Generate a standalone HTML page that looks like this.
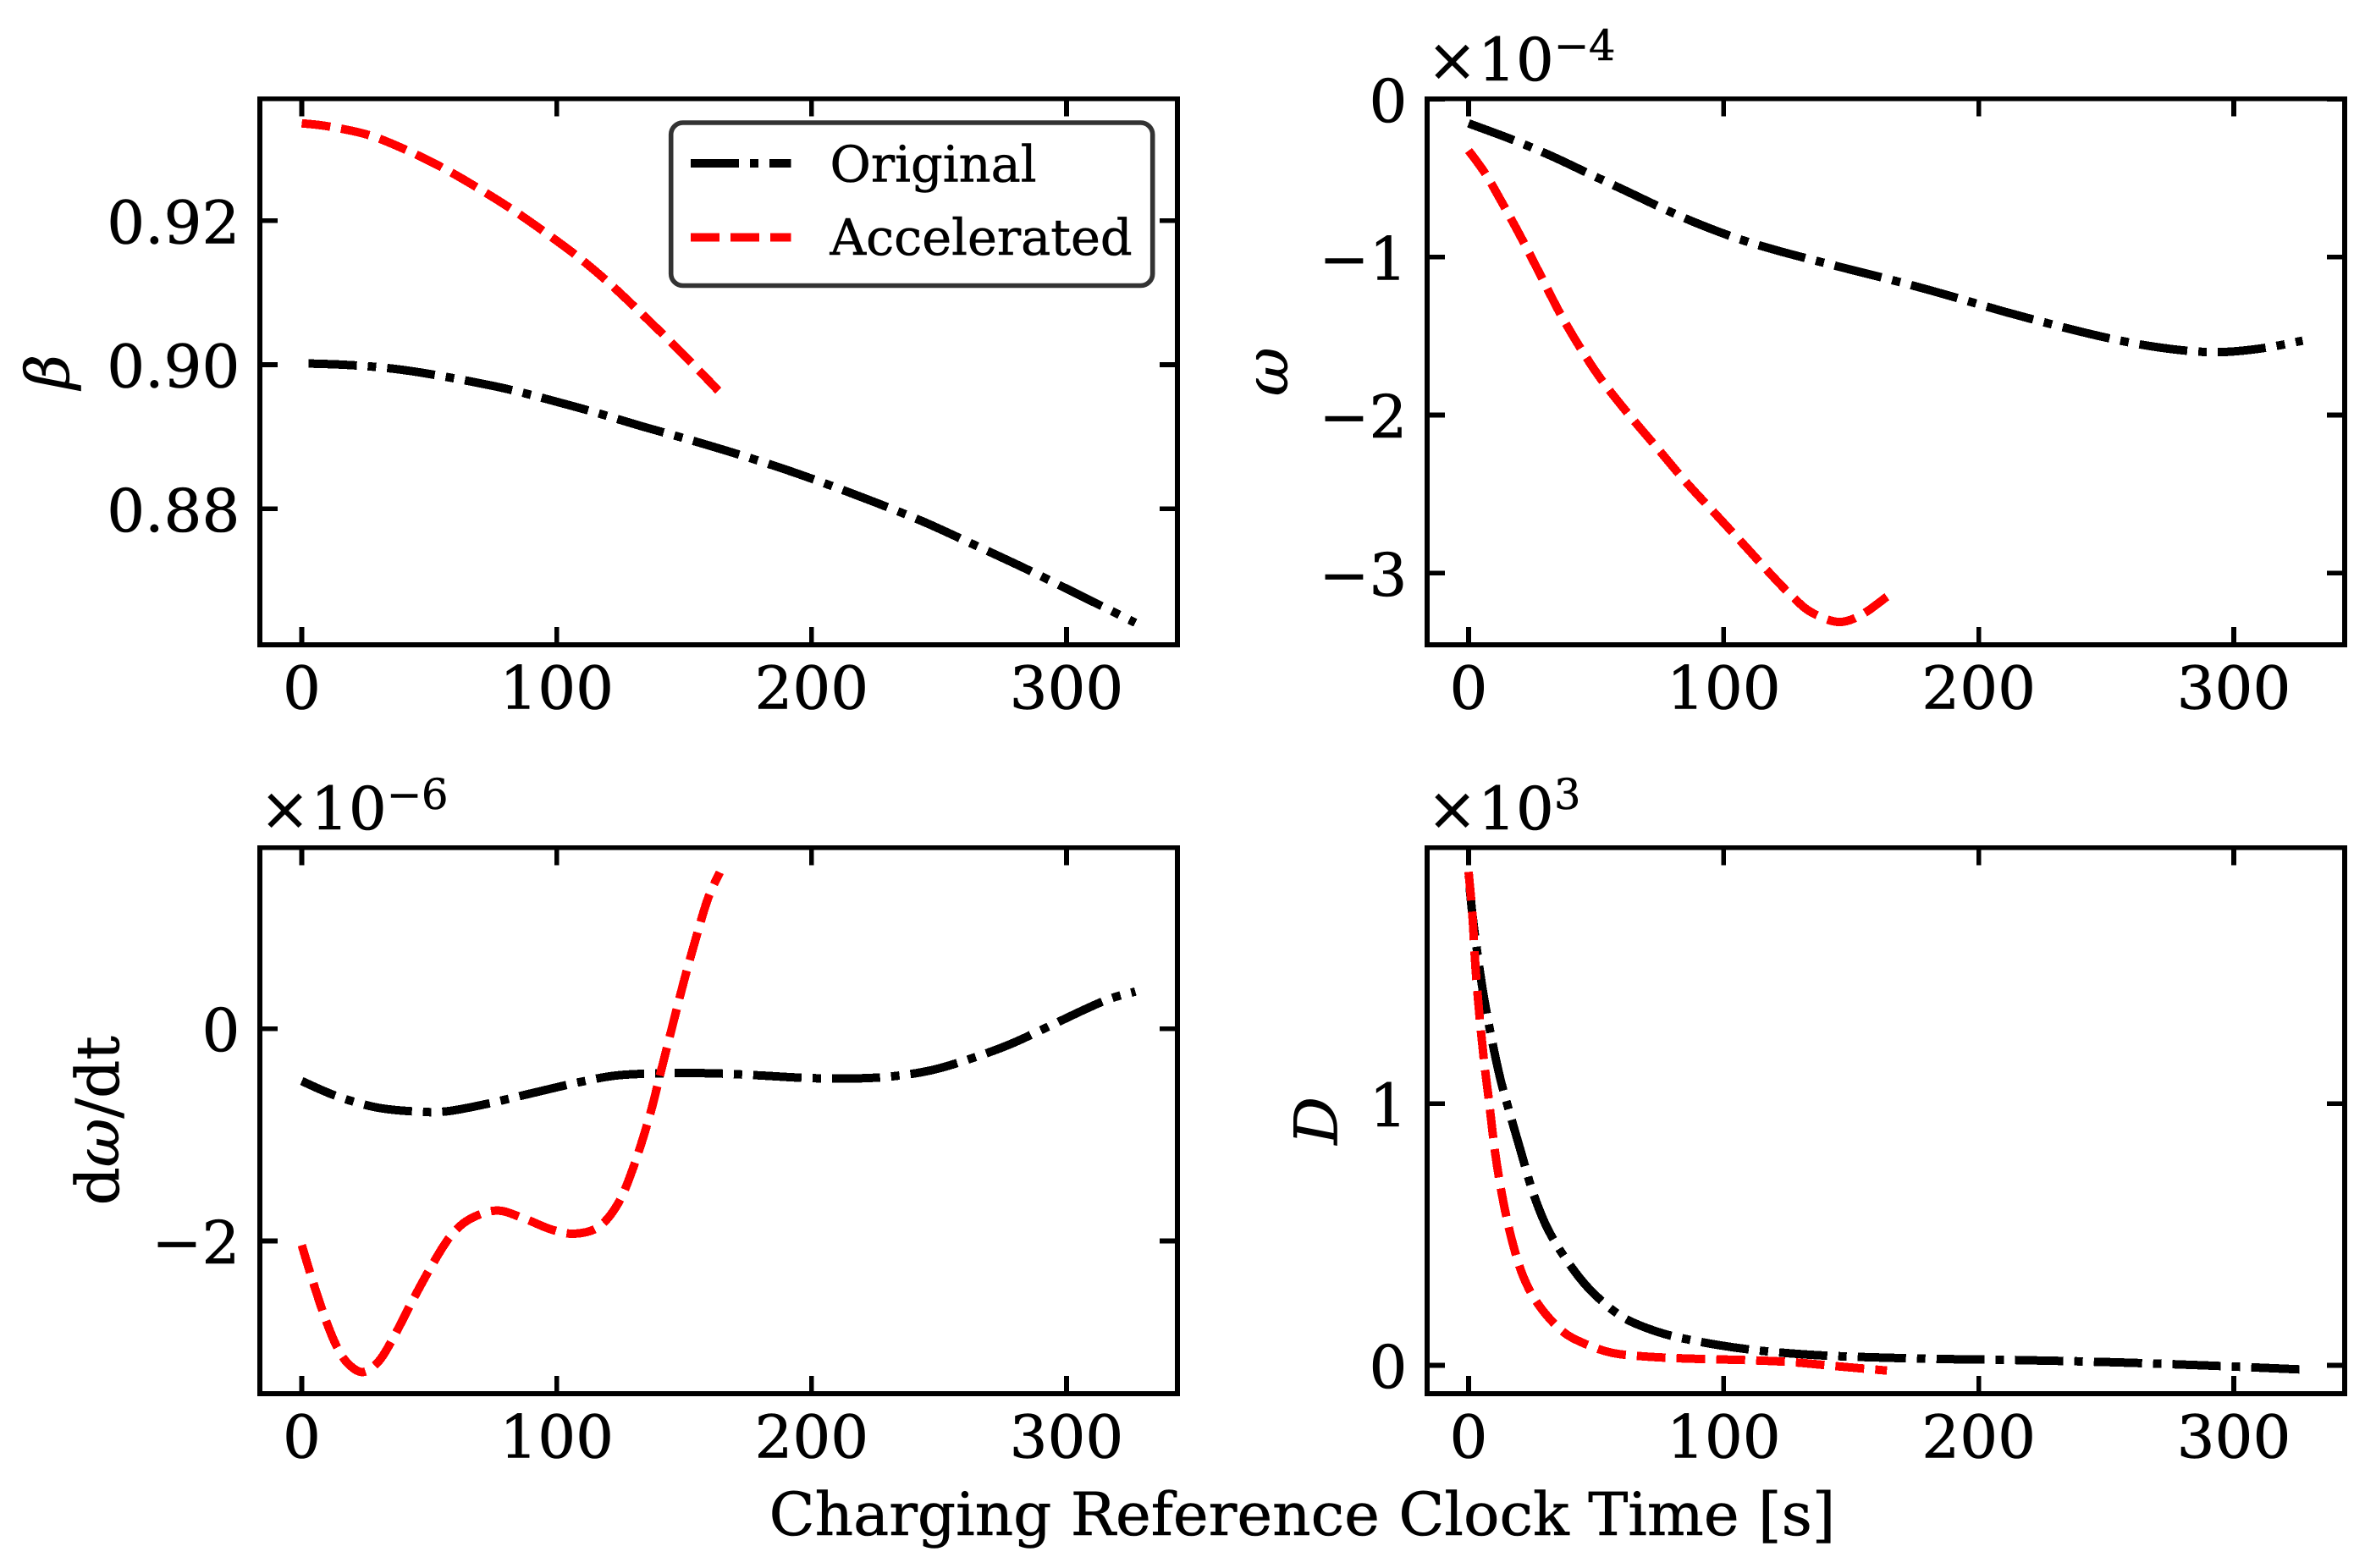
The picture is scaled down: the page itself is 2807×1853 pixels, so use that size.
<!DOCTYPE html>
<html lang="en">
<head>
<meta charset="utf-8">
<title>Original vs Accelerated charging parameters</title>
<style>
  html, body { margin: 0; padding: 0; background: #fff; }
  svg { display: block; }
  text { font-family: "DejaVu Serif", "Liberation Serif", serif; fill: #000; stroke: #000; stroke-width: 0.6px; }
  .tick-label { font-size: 70.6px; }
  .axis-label { font-size: 70.6px; }
  .sup { font-size: 49.4px; }
  .legend-text { font-size: 59px; }
</style>
</head>
<body>
<svg id="figure" xmlns="http://www.w3.org/2000/svg" width="2807" height="1853" viewBox="0 0 2807 1853">
  <rect x="0" y="0" width="2807" height="1853" fill="#fff"/>
  <g id="panels"></g>

  <text class="axis-label" transform="translate(81,439.35) rotate(-90)" text-anchor="middle" font-style="italic">β</text>
  <text class="axis-label" transform="translate(1521,439.35) rotate(-90)" text-anchor="middle" font-style="italic">ω</text>
  <text class="axis-label" transform="translate(140,1324.35) rotate(-90)" text-anchor="middle">d<tspan font-style="italic">ω</tspan>/dt</text>
  <text class="axis-label" transform="translate(1579.5,1324.35) rotate(-90)" text-anchor="middle" font-style="italic">D</text>

  <text class="axis-label"><tspan x="1686" y="95">×</tspan><tspan x="1746" y="95">10</tspan><tspan class="sup" x="1836" y="71">−</tspan><tspan class="sup" x="1877" y="71">4</tspan></text>
  <text class="axis-label"><tspan x="307" y="980">×</tspan><tspan x="367" y="980">10</tspan><tspan class="sup" x="457" y="956">−</tspan><tspan class="sup" x="498" y="956">6</tspan></text>
  <text class="axis-label"><tspan x="1686" y="980">×</tspan><tspan x="1746" y="980">10</tspan><tspan class="sup" x="1836" y="956">3</tspan></text>

  <text class="axis-label" x="1538.5" y="1814" text-anchor="middle">Charging Reference Clock Time [s]</text>

  <g>
    <rect x="792.7" y="145" width="569" height="192.5" rx="14" ry="14" fill="#fff" stroke="#333333" stroke-width="5.6"/>
    <line shape-rendering="crispEdges" x1="816" y1="193" x2="934.5" y2="193" stroke="#000" stroke-width="10" stroke-dasharray="57 13 10 13"/>
    <text class="legend-text" x="980.5" y="214.3">Original</text>
    <line shape-rendering="crispEdges" x1="816" y1="280.7" x2="934.5" y2="280.7" stroke="#ff0000" stroke-width="10" stroke-dasharray="34 13"/>
    <text class="legend-text" x="980.5" y="301">Accelerated</text>
  </g>
</svg>

<script>
// Shared x ticks
const xTickValues = [0, 100, 200, 300];
const xTickLabels = ["0", "100", "200", "300"];

// Panel: beta
const betaTickValues = [0.92, 0.90, 0.88];
const betaTickLabels = ["0.92", "0.90", "0.88"];
const betaOriginalT = [0, 16.6, 32, 47, 66, 81, 96.5, 115, 133, 152, 170, 188.6, 207, 225, 244, 262, 281, 299, 311, 327];
const betaOriginalV = [0.9002, 0.9000, 0.8996, 0.8989, 0.8977, 0.8966, 0.8952, 0.8934, 0.8915, 0.8896, 0.8877, 0.8856, 0.8833, 0.8809, 0.8782, 0.8753, 0.8722, 0.8691, 0.8670, 0.8642];
const betaAcceleratedT = [0, 10, 26, 41, 56.5, 72, 84, 96.5, 109, 121, 133, 145.5, 158, 163.4];
const betaAcceleratedV = [0.9335, 0.9331, 0.9319, 0.9298, 0.9271, 0.9239, 0.9212, 0.9181, 0.9148, 0.9112, 0.9072, 0.9029, 0.8984, 0.8964];

// Panel: omega (x 1e-4)
const omegaTickValues = [0, -1, -2, -3];
const omegaTickLabels = ["0", "−1", "−2", "−3"];
const omegaOriginalT = [0, 17, 32, 47, 62, 76.5, 91, 106, 121, 136, 151, 166, 181, 195.5, 210, 225, 240, 255, 270, 285, 297, 312, 327];
const omegaOriginalV = [-0.153, -0.255, -0.356, -0.47, -0.583, -0.694, -0.795, -0.885, -0.958, -1.022, -1.084, -1.145, -1.21, -1.277, -1.345, -1.41, -1.472, -1.527, -1.57, -1.597, -1.6, -1.575, -1.529];
const omegaAcceleratedT = [0, 6.5, 14, 21.4, 29, 36, 44, 52.7, 63, 73.5, 85, 97, 109, 118, 127, 134.5, 145, 154, 164];
const omegaAcceleratedV = [-0.325, -0.47, -0.68, -0.90, -1.14, -1.36, -1.58, -1.79, -2.0, -2.2, -2.42, -2.63, -2.84, -3.0, -3.15, -3.25, -3.31, -3.265, -3.15];

// Panel: d omega / dt (x 1e-6)
const rateTickValues = [0, -2];
const rateTickLabels = ["0", "−2"];
const rateOriginalT = [0, 13.5, 29, 44, 56.5, 72, 90, 109, 124, 142.5, 161, 179, 198, 216, 231.5, 247, 262, 277.6, 293, 308, 317.5, 327];
const rateOriginalV = [-0.494, -0.634, -0.741, -0.78, -0.78, -0.712, -0.61, -0.504, -0.44, -0.421, -0.421, -0.44, -0.465, -0.47, -0.45, -0.392, -0.286, -0.15, 0.02, 0.19, 0.286, 0.349];
const rateAcceleratedT = [0, 4.3, 9, 13.5, 18, 24, 30.4, 36.5, 42.7, 50.4, 58, 65.7, 76.5, 87, 98, 107, 116.4, 124, 130, 136.4, 141, 145.6, 150, 154.8, 159.4, 164];
const rateAcceleratedV = [-2.04, -2.378, -2.717, -2.983, -3.152, -3.235, -3.128, -2.886, -2.596, -2.257, -1.966, -1.797, -1.714, -1.787, -1.893, -1.932, -1.869, -1.651, -1.312, -0.828, -0.392, 0.044, 0.455, 0.867, 1.23, 1.472];

// Panel: D (x 1e3)
const diffTickValues = [1, 0];
const diffTickLabels = ["1", "0"];
const diffOriginalT = [0, 1.5, 3.6, 6, 9, 12.5, 16.4, 20.5, 25.3, 31, 39, 48, 60, 73.5, 88, 109, 133, 157, 186.6, 216, 252, 288, 327];
const diffOriginalV = [1.87, 1.722, 1.563, 1.407, 1.25, 1.093, 0.955, 0.817, 0.659, 0.522, 0.394, 0.285, 0.187, 0.130, 0.095, 0.062, 0.041, 0.031, 0.024, 0.02, 0.012, 0, -0.016];
const diffAcceleratedT = [0, 1.5, 2.7, 4.2, 6, 8, 10.4, 13.4, 17, 21.4, 27.4, 36.3, 45, 55.7, 67.6, 85.4, 109, 127, 145, 164];
const diffAcceleratedV = [1.886, 1.72, 1.522, 1.344, 1.167, 1.01, 0.813, 0.636, 0.478, 0.34, 0.232, 0.134, 0.085, 0.049, 0.035, 0.026, 0.02, 0.012, -0.004, -0.02];

const NS = "http://www.w3.org/2000/svg";
const root = document.getElementById("panels");
const ORIGINAL_DASH = "57 13 10 13";
const ACCELERATED_DASH = "34 13";

function makeScale(d0, d1, r0, r1) {
  return function (v) { return r0 + (v - d0) * (r1 - r0) / (d1 - d0); };
}

function smoothPath(px, py) {
  let d = "M" + px[0].toFixed(2) + "," + py[0].toFixed(2);
  for (let i = 0; i < px.length - 1; i++) {
    const i0 = Math.max(i - 1, 0);
    const i3 = Math.min(i + 2, px.length - 1);
    const c1x = px[i] + (px[i + 1] - px[i0]) / 6;
    const c1y = py[i] + (py[i + 1] - py[i0]) / 6;
    const c2x = px[i + 1] - (px[i3] - px[i]) / 6;
    const c2y = py[i + 1] - (py[i3] - py[i]) / 6;
    d += "C" + c1x.toFixed(2) + "," + c1y.toFixed(2) + " " + c2x.toFixed(2) + "," + c2y.toFixed(2) + " " + px[i + 1].toFixed(2) + "," + py[i + 1].toFixed(2);
  }
  return d;
}

function drawTick(g, x1, y1, x2, y2, name) {
  const el = document.createElementNS(NS, "line");
  
  
  el.setAttribute("x1", x1);
  el.setAttribute("y1", y1);
  el.setAttribute("x2", x2);
  el.setAttribute("y2", y2);
  el.setAttribute("stroke", "#000");
  el.setAttribute("stroke-width", "5.6");
  el.setAttribute("shape-rendering", "crispEdges");
  g.appendChild(el);
}

function drawLabel(g, x, y, anchor, str, name) {
  const el = document.createElementNS(NS, "text");
  
  
  el.setAttribute("class", "tick-label");
  el.setAttribute("x", x);
  el.setAttribute("y", y);
  el.setAttribute("text-anchor", anchor);
  el.textContent = str;
  g.appendChild(el);
}

function drawSeries(g, sx, sy, ts, vs, color, dash, offset, name) {
  const el = document.createElementNS(NS, "path");
  
  
  el.setAttribute("d", smoothPath(ts.map(sx), vs.map(sy)));
  el.setAttribute("fill", "none");
  el.setAttribute("stroke", color);
  el.setAttribute("stroke-width", "10");
  el.setAttribute("stroke-dasharray", dash);
  el.setAttribute("stroke-dashoffset", offset);
  el.setAttribute("stroke-linejoin", "round");
  el.setAttribute("shape-rendering", "crispEdges");
  g.appendChild(el);
}

function drawPanel(cfg) {
  const g = document.createElementNS(NS, "g");
  
  
  root.appendChild(g);

  const sx = makeScale(cfg.xMin, cfg.xMax, cfg.left, cfg.right);
  const sy = makeScale(cfg.yMin, cfg.yMax, cfg.bottom, cfg.top);
  const TICK = 20.8;

  drawSeries(g, sx, sy, cfg.origT, cfg.origV, "#000000", ORIGINAL_DASH, cfg.origOffset, cfg.name + "-original-line");
  drawSeries(g, sx, sy, cfg.accT, cfg.accV, "#ff0000", ACCELERATED_DASH, 0, cfg.name + "-accelerated-line");

  xTickValues.forEach(function (v, i) {
    const x = sx(v);
    drawTick(g, x, cfg.bottom, x, cfg.bottom - TICK, cfg.name + "-x-tick-bottom");
    drawTick(g, x, cfg.top, x, cfg.top + TICK, cfg.name + "-x-tick-top");
    drawLabel(g, x, cfg.bottom + 75.5, "middle", xTickLabels[i], cfg.name + "-x-tick-label");
  });

  cfg.yTicks.forEach(function (v, i) {
    const y = sy(v);
    drawTick(g, cfg.left, y, cfg.left + TICK, y, cfg.name + "-y-tick-left");
    drawTick(g, cfg.right, y, cfg.right - TICK, y, cfg.name + "-y-tick-right");
    drawLabel(g, cfg.left - 23.6, y + 26.6, "end", cfg.yLabels[i], cfg.name + "-y-tick-label");
  });

  const frame = document.createElementNS(NS, "rect");
  
  
  frame.setAttribute("x", cfg.left);
  frame.setAttribute("y", cfg.top);
  frame.setAttribute("width", cfg.right - cfg.left);
  frame.setAttribute("height", cfg.bottom - cfg.top);
  frame.setAttribute("fill", "none");
  frame.setAttribute("stroke", "#000");
  frame.setAttribute("stroke-width", "5.6");
  frame.setAttribute("shape-rendering", "crispEdges");
  g.appendChild(frame);
}

drawPanel({ name: "beta-panel", left: 307, right: 1391, top: 116.7, bottom: 762,
  xMin: -16.44, xMax: 343.5, yMin: 0.86114, yMax: 0.93691, origOffset: -8,
  yTicks: betaTickValues, yLabels: betaTickLabels,
  origT: betaOriginalT, origV: betaOriginalV, accT: betaAcceleratedT, accV: betaAcceleratedV });

drawPanel({ name: "omega-panel", left: 1686, right: 2770, top: 116.7, bottom: 762,
  xMin: -16.26, xMax: 343.47, yMin: -3.4546, yMax: 0.003, origOffset: 0,
  yTicks: omegaTickValues, yLabels: omegaTickLabels,
  origT: omegaOriginalT, origV: omegaOriginalV, accT: omegaAcceleratedT, accV: omegaAcceleratedV });

drawPanel({ name: "domega-dt-panel", left: 307, right: 1391, top: 1001.7, bottom: 1647,
  xMin: -16.44, xMax: 343.5, yMin: -3.439, yMax: 1.705, origOffset: 14,
  yTicks: rateTickValues, yLabels: rateTickLabels,
  origT: rateOriginalT, origV: rateOriginalV, accT: rateAcceleratedT, accV: rateAcceleratedV });

drawPanel({ name: "d-panel", left: 1686, right: 2770, top: 1001.7, bottom: 1647,
  xMin: -16.26, xMax: 343.47, yMin: -0.1083, yMax: 1.9786, origOffset: -14,
  yTicks: diffTickValues, yLabels: diffTickLabels,
  origT: diffOriginalT, origV: diffOriginalV, accT: diffAcceleratedT, accV: diffAcceleratedV });
</script>
</body>
</html>
